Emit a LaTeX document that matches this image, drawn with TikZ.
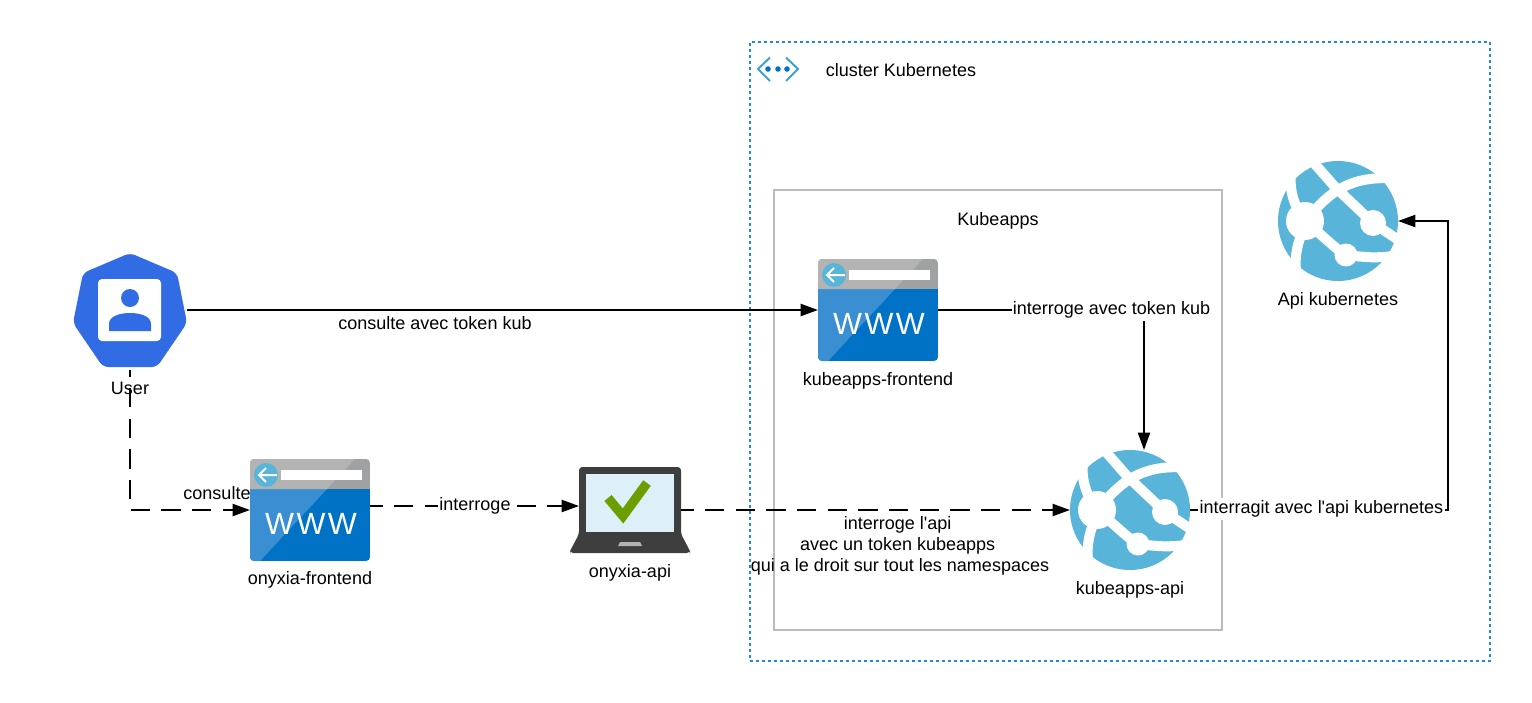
\documentclass[tikz,border=0pt]{standalone}
\usepackage{fontspec}
\setmainfont{Liberation Sans}
\usetikzlibrary{arrows.meta,calc}
\definecolor{wwwdark}{HTML}{0072C6}
\definecolor{wwwlight}{HTML}{3A8FD2}
\definecolor{barlight}{HTML}{B3B3B3}
\definecolor{bardark}{HTML}{A0A1A2}
\definecolor{skyblue}{HTML}{59B4D9}
\definecolor{kubeblue}{HTML}{326CE5}
\definecolor{clusterblue}{HTML}{1E88E5}
\definecolor{boxgrey}{HTML}{BBBBBB}
\definecolor{laptopgrey}{HTML}{3E3E3E}
\definecolor{screenblue}{HTML}{DDEFF7}
\definecolor{checkgreen}{HTML}{6B9E00}
\tikzset{
  lbl/.style={inner sep=0,outer sep=0,font=\fontsize{13.5}{16}\selectfont,align=center},
  whitelbl/.style={lbl,fill=white,inner ysep=2pt,inner xsep=1pt},
  solidlink/.style={draw=black,line width=1.5pt,-{Triangle[length=13pt,width=9pt]}},
  dashlink/.style={solidlink,dash pattern=on 14.5pt off 8.5pt},
  wwwbox/.style={inner sep=0,outer sep=0,minimum width=90pt,minimum height=76.5pt},
  globebox/.style={inner sep=0,outer sep=0,minimum width=90pt,minimum height=90pt},
  userbox/.style={inner sep=0,outer sep=0,minimum width=85.5pt,minimum height=85.5pt},
  laptopbox/.style={inner sep=0,outer sep=0,minimum width=90pt,minimum height=64.5pt},
  wwwicon/.pic={
    \begin{scope}
      \clip[rounded corners=3pt] (-60,-51) rectangle (60,51);
      \fill[wwwdark] (-60,-21) rectangle (60,51);
      \fill[wwwlight] (-60,-21) -- (17,-21) -- (-50,51) -- (-60,51) -- cycle;
      \fill[bardark] (-60,-51) rectangle (60,-21);
      \fill[barlight] (-60,-51) -- (45,-51) -- (17,-21) -- (-60,-21) -- cycle;
    \end{scope}
    \fill[skyblue] (-44,-35) circle (12);
    \draw[white,line width=1.5pt] (-33,-35) -- (-51,-35) (-44,-42) -- (-51,-35) -- (-44,-28);
    \fill[white] (-29,-40) rectangle (52,-30);
    \node (wwwtext) [inner sep=0,text=white,font=\fontsize{23}{23}\selectfont\addfontfeature{LetterSpace=8}] at (1,13.5) {WWW};
  },
  globeicon/.pic={
    \fill[skyblue] (0,0) circle (60);
    \begin{scope}
      \clip (0,0) circle (60.5);
      \draw[white,line width=7.5pt] (-33,0) .. controls (-44,-15) and (-49,-30) .. (-47,-50);
      \draw[white,line width=7.5pt] (-35,10) .. controls (-42,25) and (-44,40) .. (-41,58);
      \draw[white,line width=7.5pt] (-24,-58) -- (-3,-34) -- (35,2) -- (62,20);
      \draw[white,line width=7.5pt] (-33,0) .. controls (-15,-20) and (5,-48) .. (60,-42);
      \draw[white,line width=7.5pt] (-33,0) .. controls (-15,15) and (0,30) .. (8,34) .. controls (25,36) and (40,38) .. (60,34);
    \end{scope}
    \fill[white] (-33,0) circle (19);
    \fill[white] (35,2) circle (13);
    \fill[white] (8,34) circle (11.5);
  },
  usericon/.pic={
    \fill[kubeblue,rounded corners=4pt] (0,-57) -- (47,-37) -- (57,13) -- (27,57) -- (-27,57) -- (-57,13) -- (-47,-37) -- cycle;
    \fill[white,rounded corners=3pt] (-32,-31) rectangle (31,31);
    \fill[kubeblue] (0,-12) circle (9);
    \fill[kubeblue] (-21,21) -- (-21,14) .. controls (-21,6) and (-10,3) .. (0,3) .. controls (10,3) and (21,6) .. (21,14) -- (21,21) -- cycle;
  },
  laptopicon/.pic={
    \fill[laptopgrey,rounded corners=2.5pt] (-60,41) -- (-51,24) -- (-51,-43) -- (51,-43) -- (51,24) -- (60,41) -- (60,43) -- (-60,43) -- cycle;
    \fill[screenblue] (-44,-36) rectangle (44,22);
    \fill[barlight] (-12,36) -- (-10,32) -- (10,32) -- (12,36) -- cycle;
    \draw[checkgreen,line width=7pt] (-22,-12) -- (-7,6) -- (17,-27);
  }
}
\begin{document}
\begin{tikzpicture}[x=0.75pt,y=-0.75pt]
  \useasboundingbox (0,0) rectangle (1532,703);
  % boxes
  \node (clusterbox) [draw=clusterblue,line width=1.9pt,dash pattern=on 1.9pt off 2.6pt,inner sep=0,minimum width=555pt,minimum height=464.25pt] at (1120,351.5) {};
  \node (kubeappsbox) [draw=boxgrey,line width=1.5pt,inner sep=0,minimum width=336pt,minimum height=330pt] at (998,410) {};
  % icons
  \node (user) [userbox] at (130,310) {};
  \pic at (user) {usericon};
  \node (onyxiafront) [wwwbox] at (310,510) {};
  \pic at (onyxiafront) {wwwicon};
  \node (onyxiaapi) [laptopbox] at (630,510) {};
  \pic at (onyxiaapi) {laptopicon};
  \node (kubefront) [wwwbox] at (878,310) {};
  \pic at (kubefront) {wwwicon};
  \node (kubeapi) [globebox] at (1130,510) {};
  \pic at (kubeapi) {globeicon};
  \node (apikube) [globebox] at (1338,221) {};
  \pic at (apikube) {globeicon};
  % cluster logo
  \draw[color=skyblue!70!wwwdark,line width=1.5pt] (770,57.5) -- (758,69) -- (770,81) (786,57.5) -- (798,69) -- (786,81);
  \foreach \dotx in {768,778,787}
    \fill[wwwdark] (\dotx,69) circle (2.8);
  % connectors
  \begin{scope}[solidlink]
    \draw (user.east) -- (kubefront.west);
    \draw (kubefront.east) -| ($(kubeapi.north)+(14,0)$);
    \draw (kubeapi.east) -- ++(258,0) |- (apikube.east);
  \end{scope}
  \begin{scope}[dashlink,dash phase=5pt]
    \draw[dash phase=9.5pt] ($(user.south)+(0,3)$) |- (onyxiafront.west |- kubeapi);
    \draw ($(onyxiafront.east)+(0,-4)$) -- ($(onyxiaapi.west)+(9,-4)$);
    \draw ($(onyxiaapi.east)+(-9,0)$) -- (kubeapi.west);
  \end{scope}
  % labels
  \node (clusterlbl) [lbl] at (901,70) {cluster Kubernetes};
  \node (kubeappslbl) [lbl] at (998,221) {Kubeapps};
  \node (userlbl) [lbl] at (130,388) {User};
  \node (onyxiafrontlbl) [lbl] at (310,580) {onyxia-frontend};
  \node (onyxiaapilbl) [lbl] at (630,573) {onyxia-api};
  \node (kubefrontlbl) [lbl] at (878,381) {kubeapps-frontend};
  \node (kubeapilbl) [lbl] at (1130,590) {kubeapps-api};
  \node (apikubelbl) [lbl] at (1338,301) {Api kubernetes};
  \node (consultelbl) [lbl] at (217,493) {consulte};
  \node (tokenlbl) [lbl] at (435,323) {consulte avec token kub};
  \node (interrogelbl) [whitelbl] at (475,506) {interroge};
  \node (tokenkublbl) [whitelbl] at (1111.5,310) {interroge avec token kub};
  \node (apilbl) [lbl] at (900,546) {interroge l\textquotesingle api\kern3.5pt\\avec un token kubeapps\kern3.5pt\\qui a le droit sur tout les namespaces};
  \node (interragitlbl) [whitelbl] at (1321.5,509) {interragit avec l\textquotesingle api kubernetes};
\end{tikzpicture}
\end{document}
